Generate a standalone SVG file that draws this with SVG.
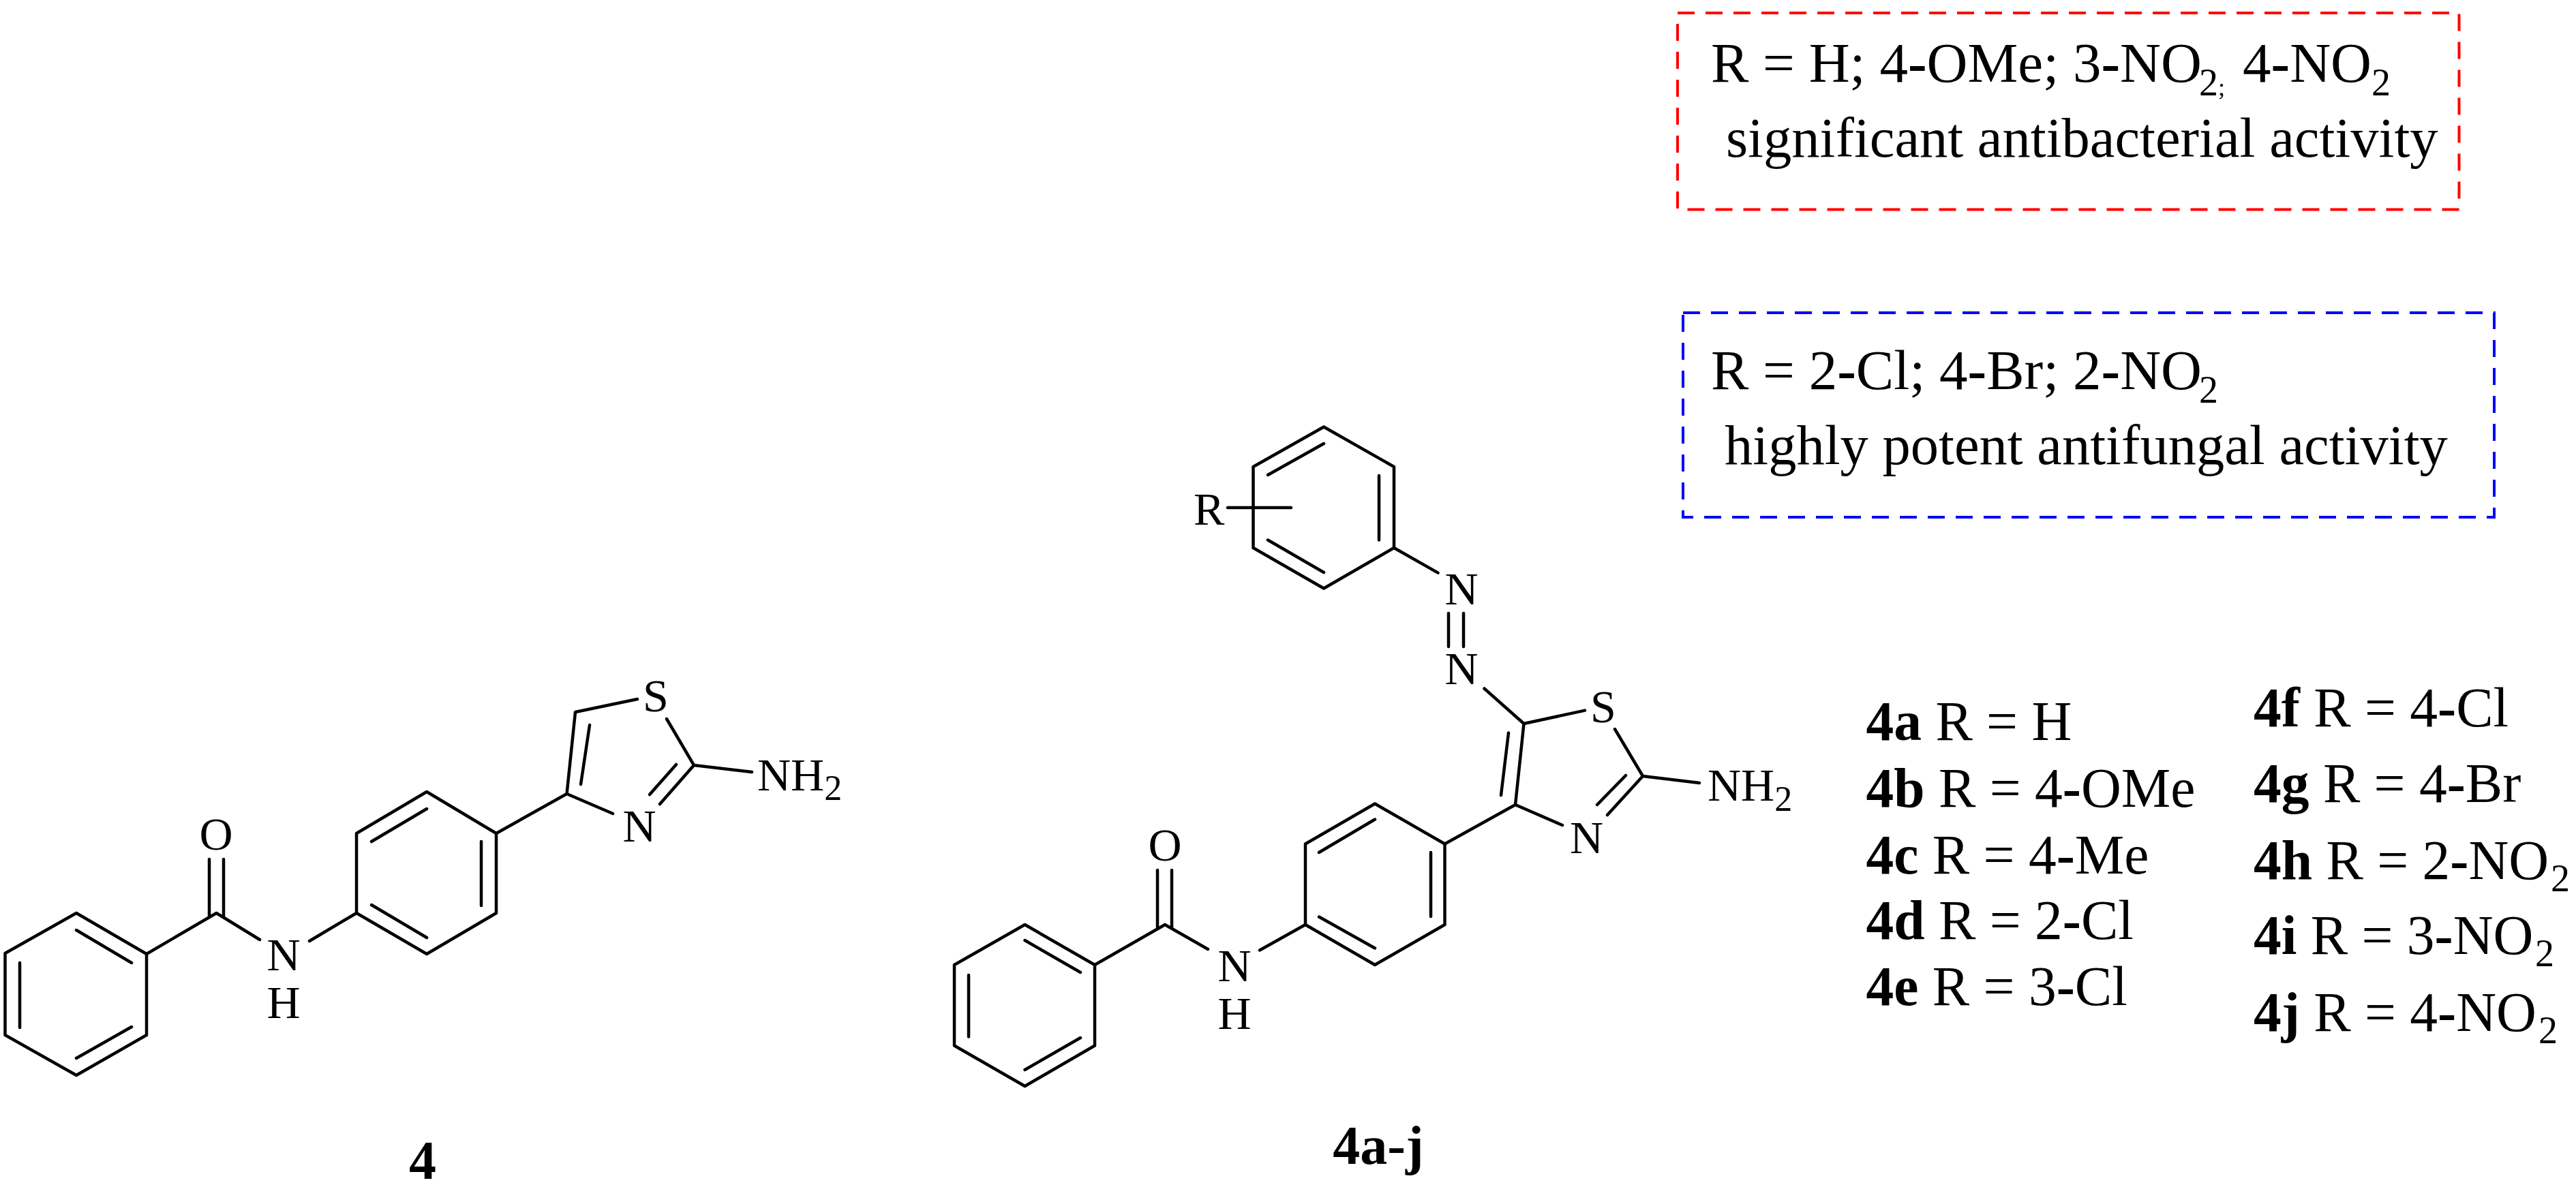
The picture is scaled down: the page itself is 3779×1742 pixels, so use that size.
<svg xmlns="http://www.w3.org/2000/svg" width="3779" height="1742" viewBox="0 0 3779 1742">
<style>
text{font-family:"Liberation Serif","Times New Roman",serif;fill:#000}
.a{font-size:68px}
.l{font-size:81.500px}
.h{font-size:83px}
.w{font-size:82.500px}
.c{font-size:80px;font-weight:bold;text-anchor:middle}
.m{text-anchor:middle}
.s{font-size:56px}
.t{font-size:52px}
.b{font-weight:bold}
.bond{fill:none;stroke:#000;stroke-width:4.5;stroke-linejoin:round;stroke-linecap:round}
.box{fill:none;stroke-width:4;stroke-dasharray:25 16}
</style>
<rect width="3779" height="1742" fill="#fff"/>
<g id="connectors" class="bond">
<path d="M112 1340L215 1400V1519L112 1578L7.500 1519V1399Z"/>
<path d="M112 1365L193 1413M29 1413V1508M112 1553L193 1507"/>
<path d="M215 1400L317.500 1340L381 1379M454 1381L523 1340"/>
<path d="M307 1261V1346M328 1261V1346"/>
<path d="M523 1223L626 1162L728 1223V1340L626 1400L523 1340Z"/>
<path d="M545 1235L626 1187M706 1235V1329M545 1328L626 1376"/>
<path d="M728 1223L831.500 1165L844 1045L935 1026M865 1064L852 1151M978 1055L1018 1123L968 1180M992 1122L953 1166M831.500 1165L899 1194M1018 1123L1103 1133"/>
<path d="M1503.500 1357L1606 1416V1534.500L1503.500 1594L1400 1534.500V1416Z"/>
<path d="M1503.500 1380L1585 1427M1421 1431V1521.500M1503.500 1570L1585 1523"/>
<path d="M1606 1416L1709 1357L1772 1393M1848 1394.500L1915 1357"/>
<path d="M1698 1277V1362M1719 1277V1362"/>
<path d="M1915 1238.500L2017 1179.500L2119.500 1238.500V1357L2017 1416L1915 1357Z"/>
<path d="M1935 1251L2017 1202.500M2099 1251V1345M1935 1345.500L2017 1391.500"/>
<path d="M2119.500 1238.500L2223 1181L2235.500 1062L2325 1042.600M2213 1075.500L2202 1167M2369 1070L2410 1139L2358 1196M2385 1138L2343 1181M2223 1181L2292 1211M2410 1139L2493 1149"/>
<path d="M2235.500 1062L2177.500 1010.500M2125 900V949M2147 900V949M2045 804L2109.500 840.600"/>
<path d="M1942 626.500L2045 685V804L1942 863.500L1838.500 804V685Z"/>
<path d="M1942 651L1860 697M2023 698V792.500M1860 792.500L1942 840M1801 745H1894"/>
</g>
<g id="compound-4-atoms" class="a">
<text class="a m" x="317" y="1247">O</text>
<text class="a m" x="416" y="1424">N</text>
<text class="a m" x="416" y="1494">H</text>
<text class="a m" x="962" y="1044">S</text>
<text class="a m" x="938" y="1235">N</text>
<text class="a" x="1111" y="1160">NH<tspan class="t" dy="14">2</tspan></text>
</g>
<g id="compound-4a-j-atoms" class="a">
<text class="a m" x="1709" y="1263">O</text>
<text class="a m" x="1811" y="1440">N</text>
<text class="a m" x="1811" y="1510">H</text>
<text class="a m" x="2352" y="1060">S</text>
<text class="a m" x="2327.500" y="1251.500">N</text>
<text class="a" x="2505" y="1175">NH<tspan class="t" dy="15">2</tspan></text>
<text class="a m" x="2144" y="1004">N</text>
<text class="a m" x="2144" y="886.500">N</text>
<text class="a" x="1751" y="769.500">R</text>
</g>
<g id="label-4"><text class="c" x="620" y="1730">4</text></g>
<g id="label-4a-j"><text class="c" x="2022" y="1708">4a-j</text></g>
<g id="box-antibacterial">
<rect class="box" stroke="#f00" x="2461" y="19" width="1146.500" height="288.500"/>
<text class="h" x="2510" y="120">R = H; 4<tspan class="b">-</tspan>OMe; 3<tspan class="b">-</tspan>NO<tspan class="s" x="3226" dy="20">2</tspan><tspan style="font-size:36px" dy="0">;</tspan><tspan x="3290" dy="-20">4</tspan><tspan class="b">-</tspan>NO<tspan class="s" x="3479" dy="20">2</tspan></text>
<text class="w" x="2532" y="230">significant antibacterial activity</text>
</g>
<g id="box-antifungal">
<rect class="box" stroke="#00f" x="2469" y="459" width="1190" height="300"/>
<text class="h" x="2510" y="571">R = 2<tspan class="b">-</tspan>Cl; 4<tspan class="b">-</tspan>Br; 2<tspan class="b">-</tspan>NO<tspan class="s" x="3226" dy="20">2</tspan></text>
<text class="w" x="2530" y="680.500">highly potent antifungal activity</text>
</g>
<g id="legend-left" class="l">
<text class="l" x="2737.500" y="1086"><tspan class="b">4a</tspan> R = H</text>
<text class="l" x="2737.500" y="1183.500"><tspan class="b">4b</tspan> R = 4<tspan class="b">-</tspan>OMe</text>
<text class="l" x="2737.500" y="1282"><tspan class="b">4c</tspan> R = 4<tspan class="b">-</tspan>Me</text>
<text class="l" x="2737.500" y="1378"><tspan class="b">4d</tspan> R = 2<tspan class="b">-</tspan>Cl</text>
<text class="l" x="2737.500" y="1475"><tspan class="b">4e</tspan> R = 3<tspan class="b">-</tspan>Cl</text>
</g>
<g id="legend-right" class="l">
<text class="l" x="3306" y="1066"><tspan class="b">4f</tspan> R = 4<tspan class="b">-</tspan>Cl</text>
<text class="l" x="3306" y="1177"><tspan class="b">4g</tspan> R = 4<tspan class="b">-</tspan>Br</text>
<text class="l" x="3306" y="1289.500"><tspan class="b">4h</tspan> R = 2<tspan class="b">-</tspan>NO<tspan class="s" x="3742" dy="18">2</tspan></text>
<text class="l" x="3306" y="1399.500"><tspan class="b">4i</tspan> R = 3<tspan class="b">-</tspan>NO<tspan class="s" x="3719" dy="18">2</tspan></text>
<text class="l" x="3306" y="1513"><tspan class="b">4j</tspan> R = 4<tspan class="b">-</tspan>NO<tspan class="s" x="3724" dy="18">2</tspan></text>
</g>
</svg>
